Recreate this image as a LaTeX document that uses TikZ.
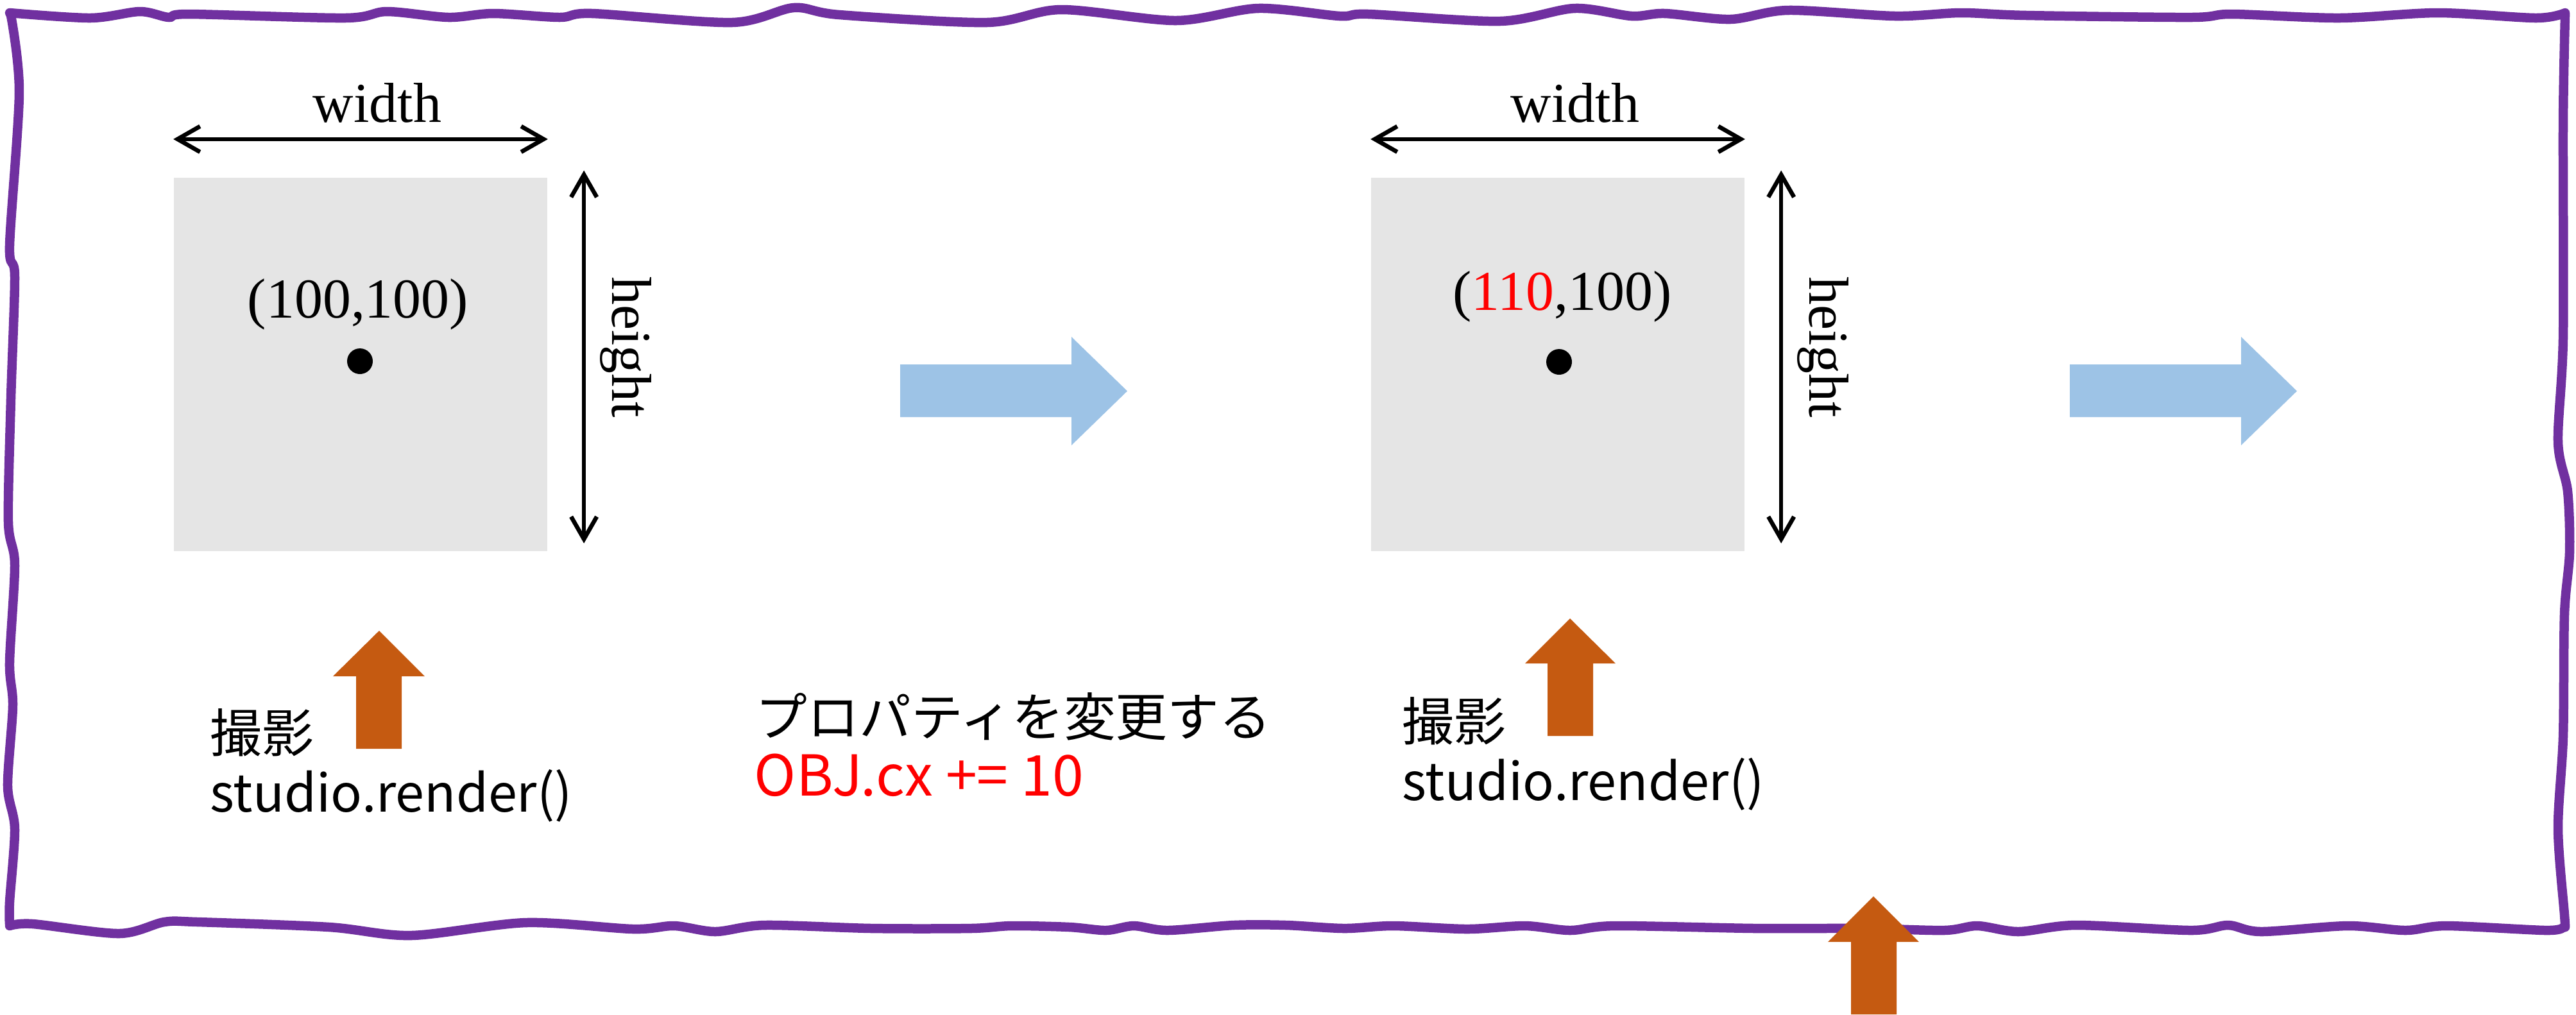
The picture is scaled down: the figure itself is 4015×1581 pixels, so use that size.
\documentclass[tikz,border=0pt]{standalone}
\usepackage{fontspec}
\setmainfont{Liberation Serif}
\newfontfamily\jpfont{Noto Sans CJK JP}
\usetikzlibrary{arrows.meta}
\definecolor{framepurple}{HTML}{7030A0}
\definecolor{shotorange}{HTML}{C55A11}
\definecolor{flowblue}{HTML}{9DC3E6}
\definecolor{objgray}{HTML}{E5E5E5}
\begin{document}
\begin{tikzpicture}[x=0.08mm, y=-0.08mm,
        objbox/.style={fill=objgray, minimum size=46.56mm, inner sep=0pt},
        dimarrow/.style={<->, >={Straight Barb[length=2.8mm,width=3.2mm]}, line width=1.5pt},
        dimlabel/.style={font=\fontsize{20}{24}\selectfont, inner sep=0pt},
        centre/.style={circle, fill=black, minimum size=3.2mm, inner sep=0pt},
        jptext/.style={font=\jpfont\fontsize{18.4}{22}\selectfont, inner sep=0pt, anchor=base west},
        codetext/.style={font=\jpfont\fontsize{18.4}{22}\selectfont, inner sep=0pt, anchor=base west}]
        \useasboundingbox (0,0) rectangle (4015,1581);
        \draw[framepurple, line width=3.3pt, line join=round]
            plot[smooth] coordinates{(15,20) (141,28) (218,18) (263,27) (295,22) (538,28) (603,18) (699,27) (769,21) (872,27) (923,21) (1141,35) (1237,12) (1308,23) (1538,35) (1654,15) (1833,32) (1961,13) (2088,25) (2133,22) (2338,33) (2454,13) (2543,25) (2595,21) (2697,30) (2787,16) (2954,25) (3056,20) (3159,24) (3415,27) (3479,22) (3646,28) (3800,20) (3953,28) (3998,20)}
            -- plot[smooth] coordinates{(3998,24) (3995,191) (3995,526) (3987,689) (4002,766) (4005,861) (3997,957) (3995,1148) (3987,1292) (3997,1426) (3998,1445)}
            -- plot[smooth] coordinates{(3994,1446) (3967,1450) (3813,1443) (3749,1450) (3659,1443) (3524,1452) (3473,1442) (3415,1450) (3236,1442) (3146,1452) (3082,1443) (3030,1450) (2902,1447) (2736,1447) (2518,1443) (2447,1450) (2377,1443) (2287,1448) (2172,1443) (2095,1447) (2005,1442) (1923,1442) (1820,1450) (1767,1443) (1724,1450) (1667,1445) (1577,1443) (1513,1447) (1359,1447) (1192,1442) (1115,1452) (1051,1443) (987,1448) (820,1438) (641,1458) (513,1445) (308,1437) (256,1437) (186,1455) (51,1440) (15,1443)}
            -- plot[smooth] coordinates{(15,1440) (15,1406) (23,1292) (12,1225) (20,1100) (15,1033) (23,880) (13,813) (17,622) (23,431) (15,383) (30,144) (17,24)} -- cycle;

        \node[objbox] (obj1) at (562,567.5) {};
        \draw[dimarrow] ([yshift=4.7mm]obj1.north west) -- ([yshift=4.7mm]obj1.north east);
        \draw[dimarrow] ([xshift=4.5mm,yshift=0.8mm]obj1.north east) -- ([xshift=4.5mm,yshift=1mm]obj1.south east);
        \node[dimlabel, anchor=base] (w1) at (588,190) {width};
        \node[dimlabel, rotate=-90] (h1) at (975,541) {height};
        \node[dimlabel, anchor=base] (pos1) at (558,495) {(100,100)};
        \node[centre] (c1) at (561,563) {};

        \node[objbox] (obj2) at (2428,567.5) {};
        \draw[dimarrow] ([yshift=4.7mm]obj2.north west) -- ([yshift=4.7mm]obj2.north east);
        \draw[dimarrow] ([xshift=4.5mm,yshift=0.8mm]obj2.north east) -- ([xshift=4.5mm,yshift=1mm]obj2.south east);
        \node[dimlabel, anchor=base] (w2) at (2455,190) {width};
        \node[dimlabel, rotate=-90] (h2) at (2841,541) {height};
        \node[dimlabel, anchor=base] (pos2) at (2435,483) {(\textcolor{red}{110},100)};
        \node[centre] (c2) at (2430,564) {};

        \fill[flowblue] (1403,568) -- (1670,568) -- (1670,525) -- (1757,609.5) -- (1670,694) -- (1670,650) -- (1403,650) -- cycle;
        \fill[flowblue] (3226,568) -- (3493,568) -- (3493,525) -- (3580,609.5) -- (3493,694) -- (3493,650) -- (3226,650) -- cycle;

        \fill[shotorange] (555,1167) -- (555,1054) -- (519,1054) -- (591,983) -- (662,1054) -- (626,1054) -- (626,1167) -- cycle;
        \fill[shotorange] (2412,1147) -- (2412,1034) -- (2377,1034) -- (2447,964) -- (2518,1034) -- (2483,1034) -- (2483,1147) -- cycle;
        \fill[shotorange] (2885,1581) -- (2885,1468) -- (2849,1468) -- (2920,1397) -- (2991,1468) -- (2956,1468) -- (2956,1581) -- cycle;

        \node[jptext] (shot1) at (327,1172) {撮影};
        \node[codetext] (call1) at (327,1265) {studio.render()};
        \node[jptext] (prop) at (1177,1147) {プロパティを変更する};
        \node[codetext, red, font=\jpfont\fontsize{20}{24}\selectfont] (change) at (1175,1240) {OBJ.cx += 10};
        \node[jptext] (shot2) at (2185,1154) {撮影};
        \node[codetext] (call2) at (2185,1247) {studio.render()};
    \end{tikzpicture}
\end{document}
